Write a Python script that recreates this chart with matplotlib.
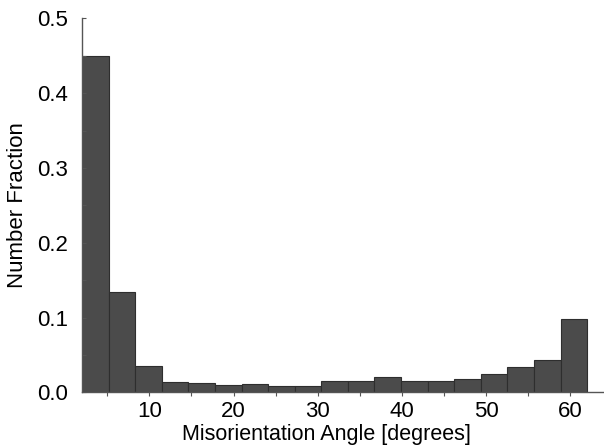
import numpy as np
import matplotlib
matplotlib.use('Agg')
import matplotlib.pyplot as plt
from matplotlib.ticker import MultipleLocator, FormatStrFormatter

plt.rcParams['font.family'] = ['Liberation Sans', 'DejaVu Sans']

# histogram bins (deg) and number fractions
bin_edges = np.linspace(2, 62, 20)
fraction = [0.450, 0.134, 0.036, 0.0145, 0.0123, 0.0097, 0.011, 0.0091, 0.0091,
            0.0154, 0.0154, 0.0207, 0.0154, 0.0154, 0.0177, 0.0244, 0.0345, 0.043, 0.0988]
xtick_vals = [10, 20, 30, 40, 50, 60]

fig = plt.figure(figsize=(6.04, 4.46), dpi=100)
ax = fig.add_axes([0.1358, 0.12, 0.8642, 0.8386])

ax.bar(bin_edges[:-1], fraction, width=np.diff(bin_edges), align='edge',
       color='#4b4b4b', edgecolor='#2e2e2e', linewidth=0.8)

ax.set_xlim(2, 64)
ax.set_ylim(0, 0.5)

for s in ['top', 'right']:
    ax.spines[s].set_visible(False)
for s in ['left', 'bottom']:
    ax.spines[s].set_color('#555555')
    ax.spines[s].set_linewidth(1.0)

ax.set_xticks(xtick_vals)
ax.xaxis.set_minor_locator(MultipleLocator(5))
ax.yaxis.set_major_locator(MultipleLocator(0.1))
ax.yaxis.set_minor_locator(MultipleLocator(0.05))
ax.yaxis.set_major_formatter(FormatStrFormatter('%.1f'))

ax.tick_params(axis='x', which='both', direction='out', length=3, width=0.8,
               color='#555555', labelsize=16, pad=3)
ax.tick_params(axis='y', which='both', direction='in', length=3, width=0.8,
               color='#555555', labelsize=16, pad=10)

ax.set_xlabel('Misorientation Angle [degrees]', fontsize=15.5)
ax.set_ylabel('Number Fraction', fontsize=16)
ax.xaxis.set_label_coords(0.469, -0.085)
ax.yaxis.set_label_coords(-0.103, 0.5)

fig.savefig('out.png', dpi=100)
